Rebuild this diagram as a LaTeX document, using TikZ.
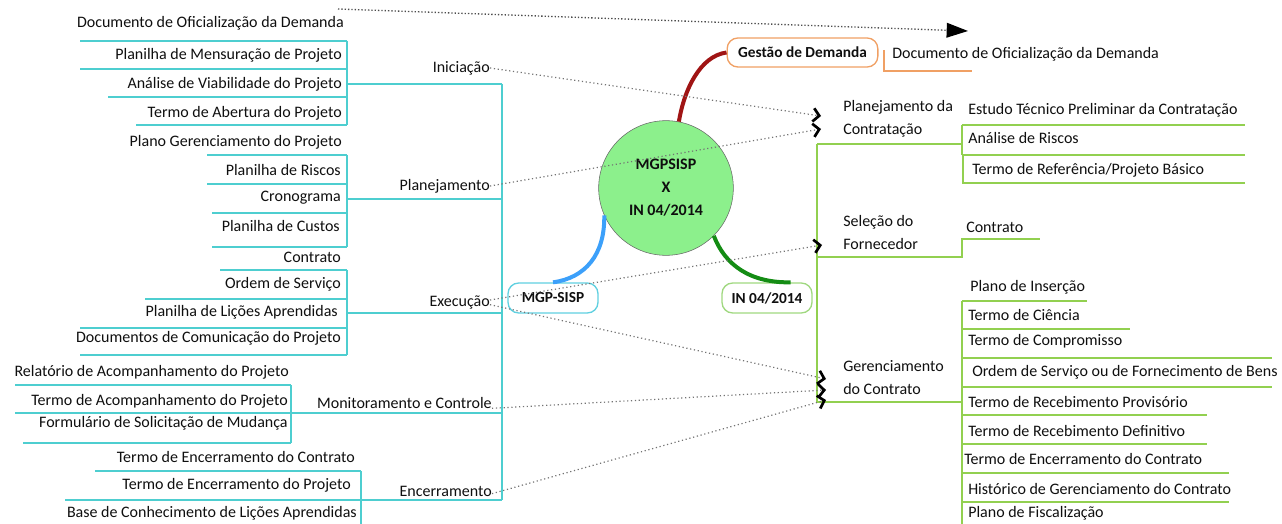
\documentclass[tikz,border=0pt]{standalone}
\usepackage{fontspec}
\setmainfont{Carlito}
\usepackage{tikz}
\usepackage{xcolor}
\usetikzlibrary{arrows.meta}

\definecolor{treecyan}{RGB}{78,206,208}
\definecolor{treegreen}{RGB}{146,208,80}
\definecolor{demorange}{RGB}{240,160,100}
\definecolor{boughred}{RGB}{160,20,20}
\definecolor{boughblue}{RGB}{60,160,250}
\definecolor{boughgreen}{RGB}{20,140,20}
\definecolor{hubgreen}{RGB}{140,240,140}
\definecolor{mgpcyan}{RGB}{96,208,224}
\definecolor{ingreen}{RGB}{160,216,128}
\definecolor{txt}{RGB}{15,15,15}

\begin{document}
\begin{tikzpicture}[x=0.75pt,y=-0.75pt,
    leaf/.style={inner sep=0pt, text=txt, font=\fontsize{12}{14}\selectfont},
    phase/.style={leaf, align=left, font=\fontsize{12}{17.25}\selectfont},
    cyantree/.style={treecyan, line width=1pt},
    greentree/.style={treegreen, line width=1pt},
    link/.style={gray!90!black, line width=0.9pt, dash pattern=on 0.9pt off 2pt,
        -{Straight Barb[length=4.5pt,width=10pt,line width=2pt,color=black]}},
    topicbox/.style={draw, rounded corners=8pt, line width=1pt, inner sep=0pt,
        text=txt, font=\bfseries\fontsize{11.5}{14}\selectfont},
    bough/.style={line width=3pt}]
    \useasboundingbox (0,0) rectangle (1282,524);

    % left side, MGP-SISP phases
    \foreach \xa/\ya in {80/41,80/69,108/97,136/125}
        \draw[cyantree] (\xa,\ya)--(347,\ya);
    \draw[cyantree] (347,41)--(347,125);
    \draw[cyantree] (347,84)--(502,84);
    \foreach \xa/\ya in {207/155,207/184,212/213,212/247}
        \draw[cyantree] (\xa,\ya)--(347,\ya);
    \draw[cyantree] (347,155)--(347,247);
    \draw[cyantree] (347,199)--(502,199);
    \foreach \xa/\ya in {220/270,145/299,80/328,80/355}
        \draw[cyantree] (\xa,\ya)--(347,\ya);
    \draw[cyantree] (347,270)--(347,355);
    \draw[cyantree] (347,313)--(502,313);
    \foreach \xa/\ya in {15/385,15/413,23/443}
        \draw[cyantree] (\xa,\ya)--(291,\ya);
    \draw[cyantree] (291,385)--(291,443);
    \draw[cyantree] (291,413)--(502,413);
    \foreach \xa/\ya in {95/471,65/500}
        \draw[cyantree] (\xa,\ya)--(361,\ya);
    \draw[cyantree] (361,471)--(361,524);
    \draw[cyantree] (361,500)--(502,500);
    \draw[cyantree] (502,84)--(502,500);

    \node[leaf,anchor=east] (ini1) at (344,23) {Documento de Oficialização da Demanda};
    \node[leaf,anchor=east] (ini2) at (342,55) {Planilha de Mensuração de Projeto};
    \node[leaf,anchor=east] (ini3) at (342,84) {Análise de Viabilidade do Projeto};
    \node[leaf,anchor=east] (ini4) at (342,113) {Termo de Abertura do Projeto};
    \node[leaf,anchor=east] (pla1) at (342,142) {Plano Gerenciamento do Projeto};
    \node[leaf,anchor=east] (pla2) at (341,170) {Planilha de Riscos};
    \node[leaf,anchor=east] (pla3) at (341,198) {Cronograma};
    \node[leaf,anchor=east] (pla4) at (340,226) {Planilha de Custos};
    \node[leaf,anchor=east] (exe1) at (341,257) {Contrato};
    \node[leaf,anchor=east] (exe2) at (341,284) {Ordem de Serviço};
    \node[leaf,anchor=east] (exe3) at (338,312) {Planilha de Lições Aprendidas};
    \node[leaf,anchor=east] (exe4) at (341,338) {Documentos de Comunicação do Projeto};
    \node[leaf,anchor=east] (mon1) at (289,372) {Relatório de Acompanhamento do Projeto};
    \node[leaf,anchor=east] (mon2) at (288,401) {Termo de Acompanhamento do Projeto};
    \node[leaf,anchor=east] (mon3) at (288,423) {Formulário de Solicitação de Mudança};
    \node[leaf,anchor=east] (enc1) at (355,457) {Termo de Encerramento do Contrato};
    \node[leaf,anchor=east] (enc2) at (351,485) {Termo de Encerramento do Projeto};
    \node[leaf,anchor=east] (enc3) at (357,513) {Base de Conhecimento de Lições Aprendidas};

    \node[leaf,anchor=east] (ini) at (490,68) {Iniciação};
    \node[leaf,anchor=east] (pla) at (490,186) {Planejamento};
    \node[leaf,anchor=east] (exe) at (490,302) {Execução};
    \node[leaf,anchor=east] (mon) at (492,403) {Monitoramento e Controle};
    \node[leaf,anchor=east] (enc) at (492,491) {Encerramento};

    % right side, IN 04/2014 phases
    \draw[demorange, line width=1pt] (884,50)--(884,71)--(972,71);
    \draw[greentree] (817,144)--(817,402);
    \draw[greentree] (817,144)--(962,144);
    \draw[greentree] (962,125)--(1245,125);
    \draw[greentree] (962,155)--(1245,155);
    \draw[greentree] (962,125)--(962,155);
    \draw[greentree] (963,155)--(963,183)--(1245,183);
    \draw[greentree] (817,257)--(962,257)--(962,239)--(1040,239);
    \draw[greentree] (817,402)--(962,402);
    \draw[greentree] (962,301)--(962,524);
    \foreach \ya/\xb in {301/1087,329/1130,358/1272,387/1272,415/1207,444/1207,473/1229,502/1229}
        \draw[greentree] (962,\ya)--(\xb,\ya);

    \node[leaf,anchor=west] (doc) at (892,54) {Documento de Oficialização da Demanda};
    \node[phase,anchor=west] (pc) at (843,118.5) {Planejamento da\\Contratação};
    \node[phase,anchor=west] (sf) at (843,232.5) {Seleção do\\Fornecedor};
    \node[phase,anchor=west] (gc) at (843,377.5) {Gerenciamento\\do Contrato};

    \node[leaf,anchor=west] (pc1) at (968,110) {Estudo Técnico Preliminar da Contratação};
    \node[leaf,anchor=west] (pc2) at (968,138) {Análise de Riscos};
    \node[leaf,anchor=west] (pc3) at (972,170) {Termo de Referência/Projeto Básico};
    \node[leaf,anchor=west] (sf1) at (966,227) {Contrato};
    \node[leaf,anchor=west] (gc1) at (970,287) {Plano de Inserção};
    \node[leaf,anchor=west] (gc2) at (968,315) {Termo de Ciência};
    \node[leaf,anchor=west] (gc3) at (968,341) {Termo de Compromisso};
    \node[leaf,anchor=west] (gc4) at (972,372) {Ordem de Serviço ou de Fornecimento de Bens};
    \node[leaf,anchor=west] (gc5) at (968,402) {Termo de Recebimento Provisório};
    \node[leaf,anchor=west] (gc6) at (968,431) {Termo de Recebimento Definitivo};
    \node[leaf,anchor=west] (gc7) at (964,459) {Termo de Encerramento do Contrato};
    \node[leaf,anchor=west] (gc8) at (968,489) {Histórico de Gerenciamento do Contrato};
    \node[leaf,anchor=west] (gc9) at (968,513) {Plano de Fiscalização};

    % centre
    \node[circle, draw=gray!80!black, fill=hubgreen, minimum size=101pt, inner sep=0pt,
        align=center, text=txt, font=\bfseries\fontsize{12}{17.25}\selectfont]
        (hub) at (666,188) {MGPSISP\\X\\IN 04/2014};
    \node[topicbox, draw=demorange, minimum width=113pt, minimum height=21.75pt]
        (gd) at (802.5,52.5) {Gestão de Demanda};
    \node[topicbox, draw=mgpcyan, minimum width=67.5pt, minimum height=22.5pt]
        (mgp) at (553,298) {MGP-SISP};
    \node[topicbox, draw=ingreen, minimum width=67.5pt, minimum height=22.5pt]
        (in) at (767,298) {IN 04/2014};

    \draw[bough, boughred] (hub.79) .. controls (684,90) and (700,56) .. (gd.west);
    \draw[bough, boughblue] (hub.204) .. controls (605,255) and (585,278) .. (mgp.north);
    \draw[bough, boughgreen] (hub.-45) .. controls (725,265) and (750,283) .. ([xshift=-16.5pt]in.north east);

    % links between the two models
    \coordinate (pcin1) at (821,116);
    \coordinate (pcin2) at (821,129);
    \coordinate (sfin) at (822,245);
    \coordinate (gcin1) at (826,379);
    \coordinate (gcin2) at (826,390);
    \coordinate (gcin3) at (826,400);
    \draw[link] (ini.east) -- (pcin1);
    \draw[link] (pla.east) -- (pcin2);
    \draw[link] ([yshift=1.5pt]exe.east) -- (sfin);
    \draw[link] ([yshift=-2pt]exe.east) -- (gcin1);
    \draw[link] ([yshift=-4pt]mon.east) -- (gcin2);
    \draw[link] ([yshift=-2pt]enc.east) -- (gcin3);

    \coordinate (docfrom) at (338,9);
    \coordinate (docto) at (968,31);
    \draw[gray!60!black, line width=1pt, dash pattern=on 1pt off 1.5pt,
        -{Triangle[length=16pt,width=11pt,color=black]}] (docfrom) -- (docto);
\end{tikzpicture}
\end{document}
